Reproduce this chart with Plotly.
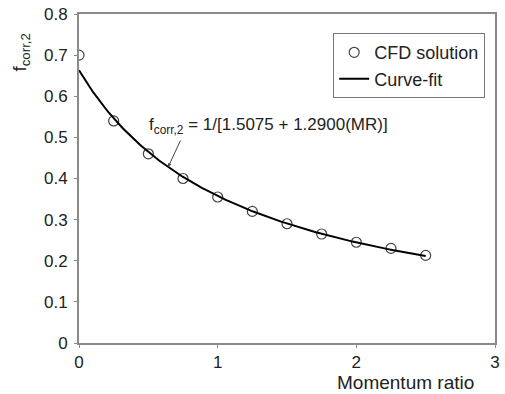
import numpy as np
import plotly.graph_objects as go

# CFD results: correction factor vs momentum ratio
mr_cfd = [0.0, 0.25, 0.5, 0.75, 1.0, 1.25, 1.5, 1.75, 2.0, 2.25, 2.5]
f_cfd = [0.70, 0.54, 0.46, 0.40, 0.355, 0.32, 0.29, 0.265, 0.245, 0.23, 0.213]

# Curve-fit coefficients: f = 1 / (a + b * MR)
fit_a = 1.5075
fit_b = 1.2900
mr_fit = np.linspace(0.0, 2.5, 200)
f_fit = 1.0 / (fit_a + fit_b * mr_fit)

x_ticks = [0, 1, 2, 3]
y_ticks = [0, 0.1, 0.2, 0.3, 0.4, 0.5, 0.6, 0.7, 0.8]
y_ticktext = ["0", "0.1", "0.2", "0.3", "0.4", "0.5", "0.6", "0.7", "0.8"]

font_family = "Liberation Sans, Arial, sans-serif"
text_color = "#222222"
axis_grey = "#8a8a8a"

fig = go.Figure()
fig.add_trace(go.Scatter(
    x=mr_cfd, y=f_cfd, mode="markers", name="CFD solution",
    marker=dict(symbol="circle-open", size=10, color="#444444", line=dict(width=1.2)),
))
fig.add_trace(go.Scatter(
    x=mr_fit, y=f_fit, mode="lines", name="Curve-fit",
    line=dict(color="black", width=2),
))

# equation label with a short pointer to the curve
fig.add_annotation(
    x=0.49, y=0.527, xref="x", yref="y", xanchor="left", yanchor="middle",
    text="f<sub>corr,2</sub> = 1/[1.5075 + 1.2900(MR)]", showarrow=False,
    font=dict(size=17, color=text_color, family=font_family),
)
x_ptr = 0.643
fig.add_annotation(
    x=x_ptr, y=1.0 / (fit_a + fit_b * x_ptr), xref="x", yref="y",
    text="", showarrow=True, arrowhead=2, arrowsize=0.7, arrowwidth=1,
    arrowcolor="#444444", ax=13, ay=-28,
)

# axis titles
fig.add_annotation(
    x=-0.14, y=0.885, xref="paper", yref="paper", textangle=-90,
    xanchor="center", yanchor="middle",
    text="f<sub>corr,2</sub>", showarrow=False,
    font=dict(size=19, color=text_color, family=font_family),
)
fig.add_annotation(
    x=0.784, y=-0.119, xref="paper", yref="paper",
    xanchor="center", yanchor="middle",
    text="Momentum ratio", showarrow=False,
    font=dict(size=19, color=text_color, family=font_family),
)

fig.update_layout(
    width=505, height=394,
    margin=dict(l=79, r=5, t=13, b=51),
    paper_bgcolor="white", plot_bgcolor="white",
    font=dict(family=font_family, size=17, color=text_color),
    showlegend=True,
    legend=dict(
        x=0.611, y=0.942, xanchor="left", yanchor="top",
        bordercolor="#777777", borderwidth=1, bgcolor="white",
        font=dict(size=18, color=text_color), itemwidth=30,
        tracegroupgap=0,
    ),
    xaxis=dict(
        range=[0, 3], tickvals=x_ticks, showgrid=False, zeroline=False,
        showline=True, linecolor=axis_grey, linewidth=2, mirror=True,
        ticks="outside", ticklen=3, tickcolor=axis_grey, ticklabelstandoff=0,
    ),
    yaxis=dict(
        range=[0, 0.8], tickvals=y_ticks, ticktext=y_ticktext,
        showgrid=False, zeroline=False,
        showline=True, linecolor=axis_grey, linewidth=2, mirror=True,
        ticks="outside", ticklen=3, tickcolor=axis_grey, ticklabelstandoff=3,
    ),
)

fig.write_html("out.html")
